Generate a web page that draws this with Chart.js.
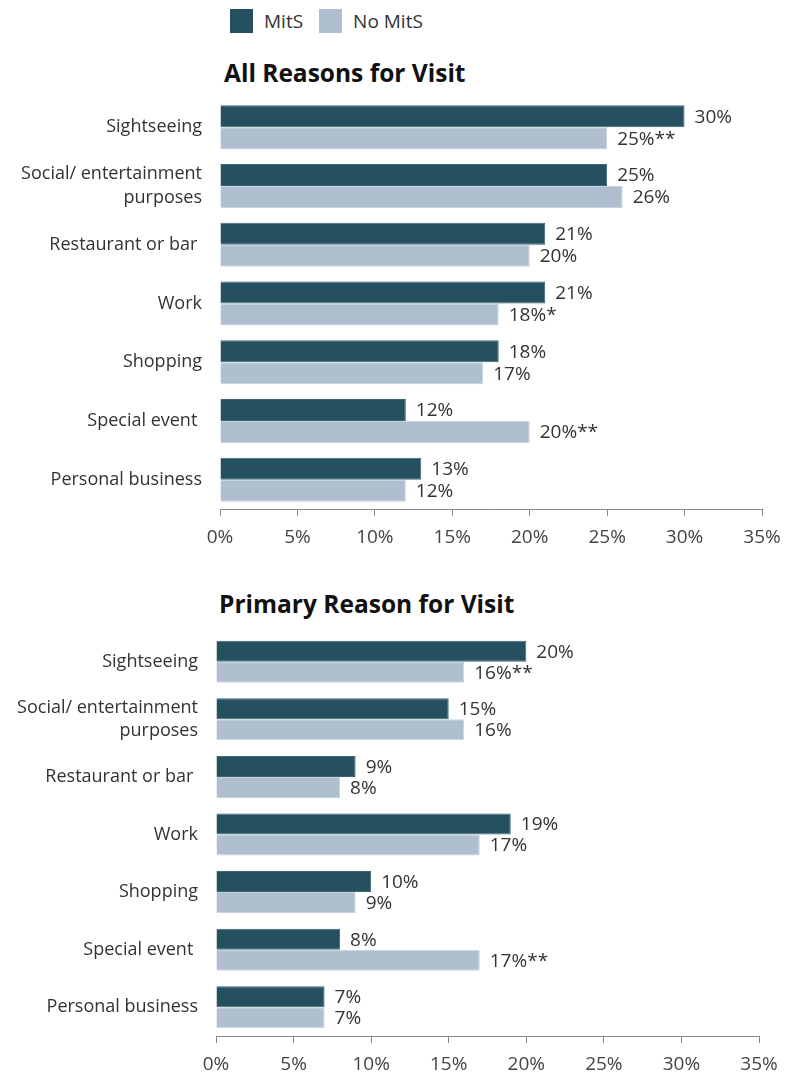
<!DOCTYPE html>
<html>
<head>
<meta charset="utf-8">
<script src="https://cdn.jsdelivr.net/npm/chart.js@4.4.1/dist/chart.umd.min.js"></script>
<style>
  body { margin: 0; background: #fff; font-family: "Open Sans", sans-serif; }
  #page { position: relative; width: 787px; height: 1072px; overflow: hidden; }
  .box { position: absolute; left: 0; width: 787px; }
  .title { position: absolute; font-weight: bold; font-size: 24.5px; line-height: 32px; color: #111; white-space: nowrap; }
  .legend { position: absolute; top: 8px; left: 230px; display: flex; align-items: center; font-size: 19px; color: #333; }
  .swatch { width: 23px; height: 24px; display: inline-block; margin-right: 11px; }
</style>
</head>
<body>
<div id="page">
  <div class="legend">
    <span class="swatch" style="background:#24505f"></span><span style="margin-right:16px">MitS</span>
    <span class="swatch" style="background:#afbfd0"></span><span>No MitS</span>
  </div>
  <div class="title" style="left:224px; top:57px">All Reasons for Visit</div>
  <div class="title" style="left:219px; top:588px">Primary Reason for Visit</div>
  <div class="box" style="top:0; height:560px"><canvas id="allChart"></canvas></div>
  <div class="box" style="top:560px; height:512px"><canvas id="primaryChart"></canvas></div>
</div>
<script>
// visit reasons, MitS riders vs non-riders (percent)
const reasons = [
  "Sightseeing",
  ["Social/ entertainment", "purposes"],
  "Restaurant or bar ",
  "Work",
  "Shopping",
  "Special event ",
  "Personal business"
];

const allMits = [30, 25, 21, 21, 18, 12, 13];
const allNoMits = [25, 26, 20, 18, 17, 20, 12];
const allNoMitsSig = ["**", "", "", "*", "", "**", ""];

const primaryMits = [20, 15, 9, 19, 10, 8, 7];
const primaryNoMits = [16, 16, 8, 17, 9, 17, 7];
const primaryNoMitsSig = ["**", "", "", "", "", "**", ""];

const xTicks = [0, 5, 10, 15, 20, 25, 30, 35];

const DARK = "#24505f";
const LIGHT = "#afbfd0";
const FONT = "'Open Sans', sans-serif";

// writes "NN%" (plus significance stars) just past the end of each bar
const valueLabels = {
  id: "valueLabels",
  afterDatasetsDraw(chart) {
    const ctx = chart.ctx;
    ctx.save();
    ctx.font = "19px " + FONT;
    ctx.fillStyle = "#333";
    ctx.textAlign = "left";
    ctx.textBaseline = "middle";
    chart.data.datasets.forEach((ds, i) => {
      chart.getDatasetMeta(i).data.forEach((bar, j) => {
        const sig = ds.sig ? ds.sig[j] : "";
        ctx.fillText(ds.data[j] + "%" + sig, bar.x + 10, bar.y + 1);
      });
    });
    ctx.restore();
  }
};

function makeChart(id, mits, noMits, sig, opts) {
  return new Chart(document.getElementById(id), {
    type: "bar",
    data: {
      labels: reasons,
      datasets: [
        { label: "MitS", data: mits, backgroundColor: DARK, borderColor: "#3d6674", borderWidth: 1, borderSkipped: "start" },
        { label: "No MitS", data: noMits, sig, backgroundColor: LIGHT, borderColor: "#c6d3df", borderWidth: 1, borderSkipped: "start" }
      ]
    },
    options: {
      indexAxis: "y",
      responsive: true,
      maintainAspectRatio: false,
      animation: false,
      datasets: { bar: { barPercentage: 1, categoryPercentage: opts.catPct } },
      layout: { padding: { top: opts.top, right: opts.right, left: 0, bottom: 0 } },
      plugins: { legend: { display: false }, tooltip: { enabled: false } },
      scales: {
        x: {
          min: 0,
          max: 35,
          afterBuildTicks: (scale) => { scale.ticks = xTicks.map(v => ({ value: v })); },
          afterFit: (scale) => {
            scale.height = opts.xHeight;
            // edge tick labels may overhang; the layout padding already covers them
            scale.paddingLeft = 0;
            scale.paddingRight = 0;
          },
          ticks: { color: "#444", font: { family: FONT, size: 19 }, padding: 10, callback: (v) => v + "%" },
          grid: { drawOnChartArea: false, drawTicks: true, tickLength: 7, color: "#8a8a8a" },
          border: { display: true, color: "#8a8a8a", width: 1 }
        },
        y: {
          afterFit: (scale) => { scale.width = opts.left; },
          ticks: { color: "#333", font: { family: FONT, size: 18, lineHeight: 1.3 }, padding: 18 },
          grid: { display: false, drawTicks: false },
          border: { display: false }
        }
      }
    },
    plugins: [valueLabels]
  });
}

makeChart("allChart", allMits, allNoMits, allNoMitsSig, { top: 98, right: 25, left: 220, xHeight: 51, catPct: 0.75 });
makeChart("primaryChart", primaryMits, primaryNoMits, primaryNoMitsSig, { top: 73, right: 28, left: 216, xHeight: 36, catPct: 0.73 });
</script>
</body>
</html>
